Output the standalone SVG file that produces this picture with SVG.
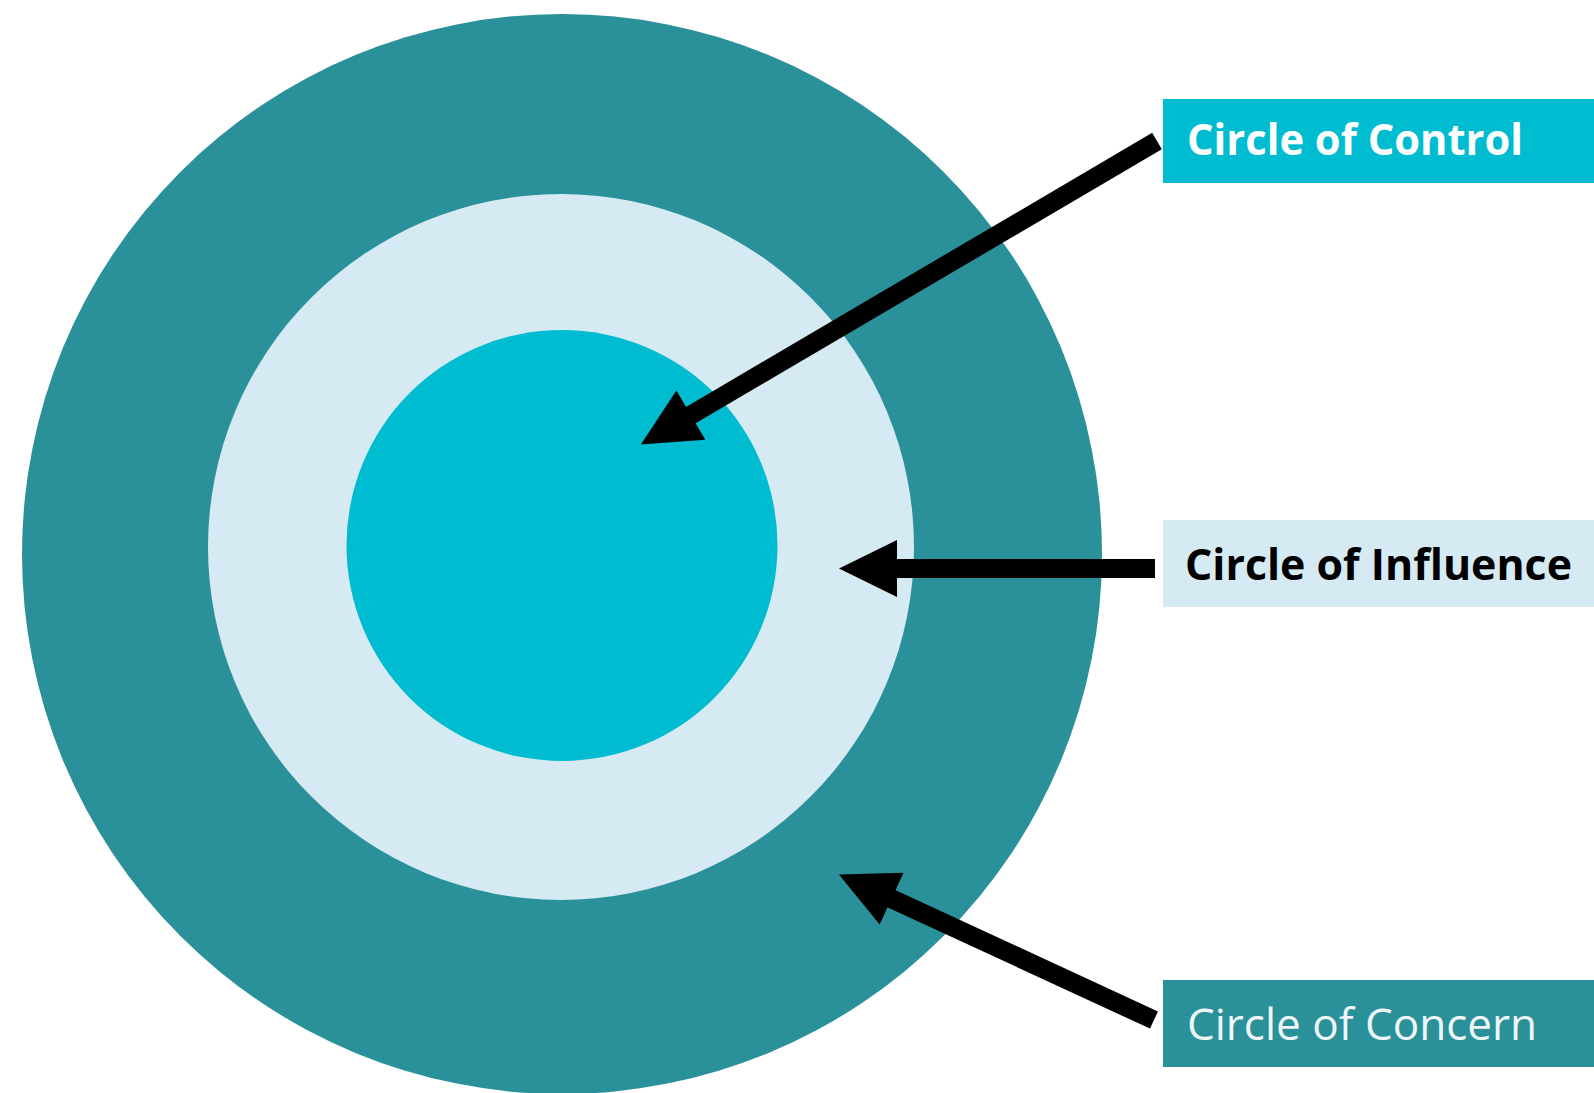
<svg xmlns="http://www.w3.org/2000/svg" width="1594" height="1093" viewBox="0 0 1594 1093">
<style>
.lbl{font-family:"Open Sans","Noto Sans","Liberation Sans",sans-serif;font-size:43px}
.b{font-weight:bold}
.conn{stroke:#000;stroke-width:19;fill:none}
</style>
<defs>
<marker id="ah" markerUnits="userSpaceOnUse" markerWidth="60" markerHeight="58" refX="1" refY="28.5" orient="auto" overflow="visible">
<path d="M0,0 L58,28.5 L0,57 Z" fill="#000"/>
</marker>
</defs>
<rect width="1594" height="1093" fill="#fff"/>
<g id="concern-circle"><circle cx="562" cy="554" r="540" fill="#2A909A"/></g>
<g id="influence-circle"><circle cx="561" cy="547" r="353" fill="#D6EAF3"/></g>
<g id="control-circle"><circle cx="562" cy="545.5" r="215.5" fill="#00BCD0"/></g>
<g id="connectors">
<line class="conn" x1="1157" y1="141" x2="690" y2="415.6" marker-end="url(#ah)"/>
<line class="conn" x1="1155" y1="568.5" x2="896" y2="568.5" marker-end="url(#ah)"/>
<line class="conn" x1="1154" y1="1020" x2="890.7" y2="898.3" marker-end="url(#ah)"/>
</g>
<g id="label-control">
<rect x="1163" y="99" width="431" height="84" fill="#00BCD0"/>
<text class="lbl b" x="1187" y="155" fill="#fff" textLength="336" lengthAdjust="spacingAndGlyphs">Circle of Control</text>
</g>
<g id="label-influence">
<rect x="1163" y="520" width="431" height="87" fill="#D6EAF3"/>
<text class="lbl b" x="1185" y="580" fill="#000" textLength="387" lengthAdjust="spacingAndGlyphs">Circle of Influence</text>
</g>
<g id="label-concern">
<rect x="1163" y="980" width="431" height="87" fill="#2A909A"/>
<text class="lbl" x="1187" y="1040" fill="#EEF7F7" textLength="350" lengthAdjust="spacingAndGlyphs">Circle of Concern</text>
</g>
</svg>
